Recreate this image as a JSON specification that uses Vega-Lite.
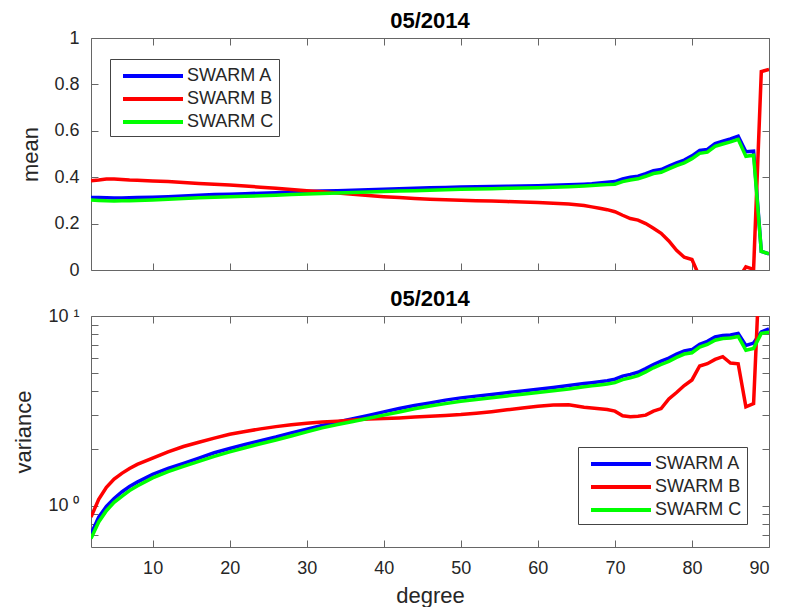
{
  "$schema": "https://vega.github.io/schema/vega-lite/v6.json",
  "padding": {"left": 12, "top": 10, "right": 20, "bottom": 1},
  "spacing": 9,
  "config": {
    "font": "Liberation Sans",
    "view": {"stroke": null},
    "axis": {
      "labelFont": "Liberation Sans", "labelFontSize": 18, "labelColor": "#262626",
      "titleFont": "Liberation Sans", "titleFontSize": 22, "titleFontWeight": "normal", "titleColor": "#262626",
      "domainColor": "#666", "tickColor": "#666", "tickSize": -7, "labelPadding": 19, "grid": false
    },
    "title": {"font": "Liberation Sans", "fontSize": 22, "fontWeight": "bold", "color": "#000", "offset": 5},
    "legend": {
      "title": null, "symbolType": "M-3,0H3", "symbolSize": 400, "symbolStrokeWidth": 4,
      "labelFont": "Liberation Sans", "labelFontSize": 18, "labelColor": "#262626",
      "strokeColor": "#444", "fillColor": "white", "padding": 5, "rowPadding": 2,
      "symbolOffset": 26, "labelOffset": 22
    }
  },
  "data": {"values": [
    {"d":2,"s":"SWARM A","m":0.313,"v":0.71},{"d":3,"s":"SWARM A","m":0.312,"v":0.87},{"d":4,"s":"SWARM A","m":0.311,"v":0.99},{"d":5,"s":"SWARM A","m":0.31,"v":1.09},{"d":6,"s":"SWARM A","m":0.31,"v":1.18},{"d":7,"s":"SWARM A","m":0.311,"v":1.26},{"d":8,"s":"SWARM A","m":0.312,"v":1.33},{"d":10,"s":"SWARM A","m":0.314,"v":1.46},{"d":12,"s":"SWARM A","m":0.316,"v":1.57},{"d":14,"s":"SWARM A","m":0.319,"v":1.67},{"d":16,"s":"SWARM A","m":0.322,"v":1.78},{"d":18,"s":"SWARM A","m":0.325,"v":1.9},{"d":20,"s":"SWARM A","m":0.327,"v":2.0},{"d":22,"s":"SWARM A","m":0.329,"v":2.1},{"d":24,"s":"SWARM A","m":0.331,"v":2.2},{"d":26,"s":"SWARM A","m":0.333,"v":2.3},{"d":28,"s":"SWARM A","m":0.336,"v":2.42},{"d":30,"s":"SWARM A","m":0.338,"v":2.53},{"d":32,"s":"SWARM A","m":0.34,"v":2.65},{"d":34,"s":"SWARM A","m":0.342,"v":2.76},{"d":36,"s":"SWARM A","m":0.344,"v":2.87},{"d":38,"s":"SWARM A","m":0.346,"v":2.99},{"d":40,"s":"SWARM A","m":0.348,"v":3.12},{"d":42,"s":"SWARM A","m":0.35,"v":3.25},{"d":44,"s":"SWARM A","m":0.352,"v":3.37},{"d":46,"s":"SWARM A","m":0.354,"v":3.48},{"d":48,"s":"SWARM A","m":0.356,"v":3.6},{"d":50,"s":"SWARM A","m":0.358,"v":3.7},{"d":52,"s":"SWARM A","m":0.359,"v":3.78},{"d":54,"s":"SWARM A","m":0.36,"v":3.86},{"d":56,"s":"SWARM A","m":0.361,"v":3.94},{"d":58,"s":"SWARM A","m":0.362,"v":4.02},{"d":60,"s":"SWARM A","m":0.363,"v":4.11},{"d":62,"s":"SWARM A","m":0.365,"v":4.2},{"d":64,"s":"SWARM A","m":0.367,"v":4.3},{"d":66,"s":"SWARM A","m":0.37,"v":4.4},{"d":67,"s":"SWARM A","m":0.372,"v":4.45},{"d":68,"s":"SWARM A","m":0.375,"v":4.5},{"d":69,"s":"SWARM A","m":0.378,"v":4.56},{"d":70,"s":"SWARM A","m":0.381,"v":4.64},{"d":71,"s":"SWARM A","m":0.393,"v":4.82},{"d":72,"s":"SWARM A","m":0.4,"v":4.92},{"d":73,"s":"SWARM A","m":0.404,"v":5.05},{"d":74,"s":"SWARM A","m":0.415,"v":5.28},{"d":75,"s":"SWARM A","m":0.428,"v":5.55},{"d":76,"s":"SWARM A","m":0.433,"v":5.78},{"d":77,"s":"SWARM A","m":0.448,"v":6.0},{"d":78,"s":"SWARM A","m":0.462,"v":6.3},{"d":79,"s":"SWARM A","m":0.474,"v":6.55},{"d":80,"s":"SWARM A","m":0.492,"v":6.65},{"d":81,"s":"SWARM A","m":0.515,"v":7.1},{"d":82,"s":"SWARM A","m":0.52,"v":7.35},{"d":83,"s":"SWARM A","m":0.545,"v":7.75},{"d":84,"s":"SWARM A","m":0.555,"v":7.9},{"d":85,"s":"SWARM A","m":0.565,"v":7.95},{"d":86,"s":"SWARM A","m":0.577,"v":8.1},{"d":87,"s":"SWARM A","m":0.51,"v":7.0},{"d":88,"s":"SWARM A","m":0.512,"v":7.2},{"d":89,"s":"SWARM A","m":0.08,"v":8.25},{"d":90,"s":"SWARM A","m":0.07,"v":8.55},

    {"d":2,"s":"SWARM B","m":0.385,"v":0.87},{"d":3,"s":"SWARM B","m":0.388,"v":1.08},{"d":4,"s":"SWARM B","m":0.392,"v":1.25},{"d":5,"s":"SWARM B","m":0.392,"v":1.38},{"d":6,"s":"SWARM B","m":0.39,"v":1.48},{"d":7,"s":"SWARM B","m":0.388,"v":1.57},{"d":8,"s":"SWARM B","m":0.387,"v":1.65},{"d":10,"s":"SWARM B","m":0.384,"v":1.78},{"d":12,"s":"SWARM B","m":0.381,"v":1.92},{"d":14,"s":"SWARM B","m":0.377,"v":2.05},{"d":16,"s":"SWARM B","m":0.373,"v":2.16},{"d":18,"s":"SWARM B","m":0.37,"v":2.27},{"d":20,"s":"SWARM B","m":0.366,"v":2.38},{"d":22,"s":"SWARM B","m":0.362,"v":2.46},{"d":24,"s":"SWARM B","m":0.357,"v":2.54},{"d":26,"s":"SWARM B","m":0.352,"v":2.61},{"d":28,"s":"SWARM B","m":0.347,"v":2.67},{"d":30,"s":"SWARM B","m":0.342,"v":2.72},{"d":32,"s":"SWARM B","m":0.337,"v":2.76},{"d":34,"s":"SWARM B","m":0.332,"v":2.79},{"d":36,"s":"SWARM B","m":0.327,"v":2.83},{"d":38,"s":"SWARM B","m":0.321,"v":2.86},{"d":40,"s":"SWARM B","m":0.316,"v":2.88},{"d":42,"s":"SWARM B","m":0.312,"v":2.9},{"d":44,"s":"SWARM B","m":0.308,"v":2.93},{"d":46,"s":"SWARM B","m":0.305,"v":2.96},{"d":48,"s":"SWARM B","m":0.303,"v":2.99},{"d":50,"s":"SWARM B","m":0.301,"v":3.02},{"d":52,"s":"SWARM B","m":0.299,"v":3.07},{"d":54,"s":"SWARM B","m":0.297,"v":3.13},{"d":56,"s":"SWARM B","m":0.295,"v":3.2},{"d":58,"s":"SWARM B","m":0.293,"v":3.27},{"d":60,"s":"SWARM B","m":0.291,"v":3.34},{"d":62,"s":"SWARM B","m":0.288,"v":3.39},{"d":64,"s":"SWARM B","m":0.284,"v":3.4},{"d":66,"s":"SWARM B","m":0.278,"v":3.3},{"d":67,"s":"SWARM B","m":0.272,"v":3.27},{"d":68,"s":"SWARM B","m":0.266,"v":3.24},{"d":69,"s":"SWARM B","m":0.26,"v":3.21},{"d":70,"s":"SWARM B","m":0.251,"v":3.15},{"d":71,"s":"SWARM B","m":0.236,"v":2.98},{"d":72,"s":"SWARM B","m":0.222,"v":2.94},{"d":73,"s":"SWARM B","m":0.215,"v":2.96},{"d":74,"s":"SWARM B","m":0.2,"v":3.0},{"d":75,"s":"SWARM B","m":0.18,"v":3.15},{"d":76,"s":"SWARM B","m":0.158,"v":3.25},{"d":77,"s":"SWARM B","m":0.125,"v":3.65},{"d":78,"s":"SWARM B","m":0.085,"v":3.95},{"d":79,"s":"SWARM B","m":0.055,"v":4.3},{"d":80,"s":"SWARM B","m":0.045,"v":4.6},{"d":81,"s":"SWARM B","m":-0.03,"v":5.45},{"d":82,"s":"SWARM B","m":-0.06,"v":5.6},{"d":83,"s":"SWARM B","m":-0.08,"v":5.9},{"d":84,"s":"SWARM B","m":-0.1,"v":6.1},{"d":85,"s":"SWARM B","m":-0.08,"v":5.65},{"d":86,"s":"SWARM B","m":-0.04,"v":5.6},{"d":87,"s":"SWARM B","m":0.014,"v":3.32},{"d":88,"s":"SWARM B","m":0.003,"v":3.45},{"d":89,"s":"SWARM B","m":0.855,"v":29},{"d":90,"s":"SWARM B","m":0.865,"v":32},

    {"d":2,"s":"SWARM C","m":0.302,"v":0.67},{"d":3,"s":"SWARM C","m":0.3,"v":0.82},{"d":4,"s":"SWARM C","m":0.298,"v":0.94},{"d":5,"s":"SWARM C","m":0.297,"v":1.04},{"d":6,"s":"SWARM C","m":0.298,"v":1.12},{"d":7,"s":"SWARM C","m":0.299,"v":1.2},{"d":8,"s":"SWARM C","m":0.3,"v":1.27},{"d":10,"s":"SWARM C","m":0.302,"v":1.4},{"d":12,"s":"SWARM C","m":0.305,"v":1.51},{"d":14,"s":"SWARM C","m":0.308,"v":1.61},{"d":16,"s":"SWARM C","m":0.311,"v":1.71},{"d":18,"s":"SWARM C","m":0.314,"v":1.82},{"d":20,"s":"SWARM C","m":0.316,"v":1.92},{"d":22,"s":"SWARM C","m":0.318,"v":2.02},{"d":24,"s":"SWARM C","m":0.32,"v":2.12},{"d":26,"s":"SWARM C","m":0.322,"v":2.22},{"d":28,"s":"SWARM C","m":0.325,"v":2.33},{"d":30,"s":"SWARM C","m":0.328,"v":2.45},{"d":32,"s":"SWARM C","m":0.33,"v":2.57},{"d":34,"s":"SWARM C","m":0.332,"v":2.68},{"d":36,"s":"SWARM C","m":0.334,"v":2.78},{"d":38,"s":"SWARM C","m":0.336,"v":2.89},{"d":40,"s":"SWARM C","m":0.338,"v":3.0},{"d":42,"s":"SWARM C","m":0.34,"v":3.12},{"d":44,"s":"SWARM C","m":0.342,"v":3.24},{"d":46,"s":"SWARM C","m":0.344,"v":3.35},{"d":48,"s":"SWARM C","m":0.346,"v":3.45},{"d":50,"s":"SWARM C","m":0.348,"v":3.55},{"d":52,"s":"SWARM C","m":0.349,"v":3.63},{"d":54,"s":"SWARM C","m":0.35,"v":3.71},{"d":56,"s":"SWARM C","m":0.352,"v":3.79},{"d":58,"s":"SWARM C","m":0.353,"v":3.87},{"d":60,"s":"SWARM C","m":0.355,"v":3.95},{"d":62,"s":"SWARM C","m":0.357,"v":4.03},{"d":64,"s":"SWARM C","m":0.359,"v":4.12},{"d":66,"s":"SWARM C","m":0.362,"v":4.23},{"d":67,"s":"SWARM C","m":0.364,"v":4.28},{"d":68,"s":"SWARM C","m":0.366,"v":4.33},{"d":69,"s":"SWARM C","m":0.368,"v":4.38},{"d":70,"s":"SWARM C","m":0.37,"v":4.45},{"d":71,"s":"SWARM C","m":0.381,"v":4.62},{"d":72,"s":"SWARM C","m":0.388,"v":4.72},{"d":73,"s":"SWARM C","m":0.393,"v":4.85},{"d":74,"s":"SWARM C","m":0.404,"v":5.07},{"d":75,"s":"SWARM C","m":0.416,"v":5.33},{"d":76,"s":"SWARM C","m":0.421,"v":5.55},{"d":77,"s":"SWARM C","m":0.436,"v":5.77},{"d":78,"s":"SWARM C","m":0.45,"v":6.05},{"d":79,"s":"SWARM C","m":0.462,"v":6.3},{"d":80,"s":"SWARM C","m":0.48,"v":6.4},{"d":81,"s":"SWARM C","m":0.503,"v":6.85},{"d":82,"s":"SWARM C","m":0.508,"v":7.08},{"d":83,"s":"SWARM C","m":0.533,"v":7.45},{"d":84,"s":"SWARM C","m":0.543,"v":7.6},{"d":85,"s":"SWARM C","m":0.552,"v":7.65},{"d":86,"s":"SWARM C","m":0.563,"v":7.8},{"d":87,"s":"SWARM C","m":0.49,"v":6.6},{"d":88,"s":"SWARM C","m":0.495,"v":6.75},{"d":89,"s":"SWARM C","m":0.08,"v":8.1},{"d":90,"s":"SWARM C","m":0.07,"v":8.2}
  ]},
  "resolve": {"scale": {"color": "independent"}},
  "vconcat": [
    {
      "width": 678, "height": 232,
      "title": {"text": "05/2014", "offset": -4},
      "layer": [
        {
          "mark": {"type": "line", "strokeWidth": 3.5, "clip": true},
          "encoding": {
            "x": {"field": "d", "type": "quantitative", "scale": {"domain": [2, 90], "nice": false},
                  "axis": {"values": [10,20,30,40,50,60,70,80,90], "labels": false, "title": null, "orient": "bottom"}},
            "y": {"field": "m", "type": "quantitative", "scale": {"domain": [0, 1], "nice": false},
                  "axis": {"values": [0,0.2,0.4,0.6,0.8,1], "format": "~g", "title": "mean", "titlePadding": 11, "orient": "left"}},
            "color": {"field": "s", "type": "nominal",
                      "scale": {"domain": ["SWARM A","SWARM B","SWARM C"], "range": ["#0000ff","#ff0000","#00ff00"]},
                      "legend": {"orient": "none", "legendX": 19, "legendY": 21}}
          }
        },
        {
          "mark": {"type": "line", "opacity": 0, "clip": true},
          "encoding": {
            "x": {"field": "d", "type": "quantitative",
                  "axis": {"values": [10,20,30,40,50,60,70,80,90], "labels": false, "title": null, "orient": "top"}},
            "y": {"field": "m", "type": "quantitative",
                  "axis": {"values": [0,0.2,0.4,0.6,0.8,1], "labels": false, "title": null, "orient": "right"}},
            "detail": {"field": "s"}
          }
        }
      ],
      "resolve": {"axis": {"x": "independent", "y": "independent"}}
    },
    {
      "width": 678, "height": 231,
      "title": {"text": "05/2014", "offset": -4},
      "layer": [
        {
          "mark": {"type": "line", "strokeWidth": 3.5, "clip": true},
          "encoding": {
            "x": {"field": "d", "type": "quantitative", "scale": {"domain": [2, 90], "nice": false},
                  "axis": {"values": [10,20,30,40,50,60,70,80,90], "title": "degree", "titlePadding": 8, "orient": "bottom"}},
            "y": {"field": "v", "type": "quantitative", "scale": {"type": "log", "domain": [0.605, 10], "nice": false},
                  "axis": {"values": [0.7,0.8,0.9,1,2,3,4,5,6,7,8,9,10],
                           "labelExpr": "datum.value == 1 ? '10 ⁰' : datum.value == 10 ? '10 ¹' : ''",
                           "title": "variance", "titlePadding": 12, "orient": "left"}},
            "color": {"field": "s", "type": "nominal",
                      "scale": {"domain": ["SWARM A","SWARM B","SWARM C"], "range": ["#0000ff","#ff0000","#00ff00"]},
                      "legend": {"orient": "none", "legendX": 487, "legendY": 131}}
          }
        },
        {
          "mark": {"type": "line", "opacity": 0, "clip": true},
          "encoding": {
            "x": {"field": "d", "type": "quantitative",
                  "axis": {"values": [10,20,30,40,50,60,70,80,90], "labels": false, "title": null, "orient": "top"}},
            "y": {"field": "v", "type": "quantitative",
                  "axis": {"values": [0.7,0.8,0.9,1,2,3,4,5,6,7,8,9,10], "labels": false, "title": null, "orient": "right"}},
            "detail": {"field": "s"}
          }
        }
      ],
      "resolve": {"axis": {"x": "independent", "y": "independent"}}
    }
  ]
}
